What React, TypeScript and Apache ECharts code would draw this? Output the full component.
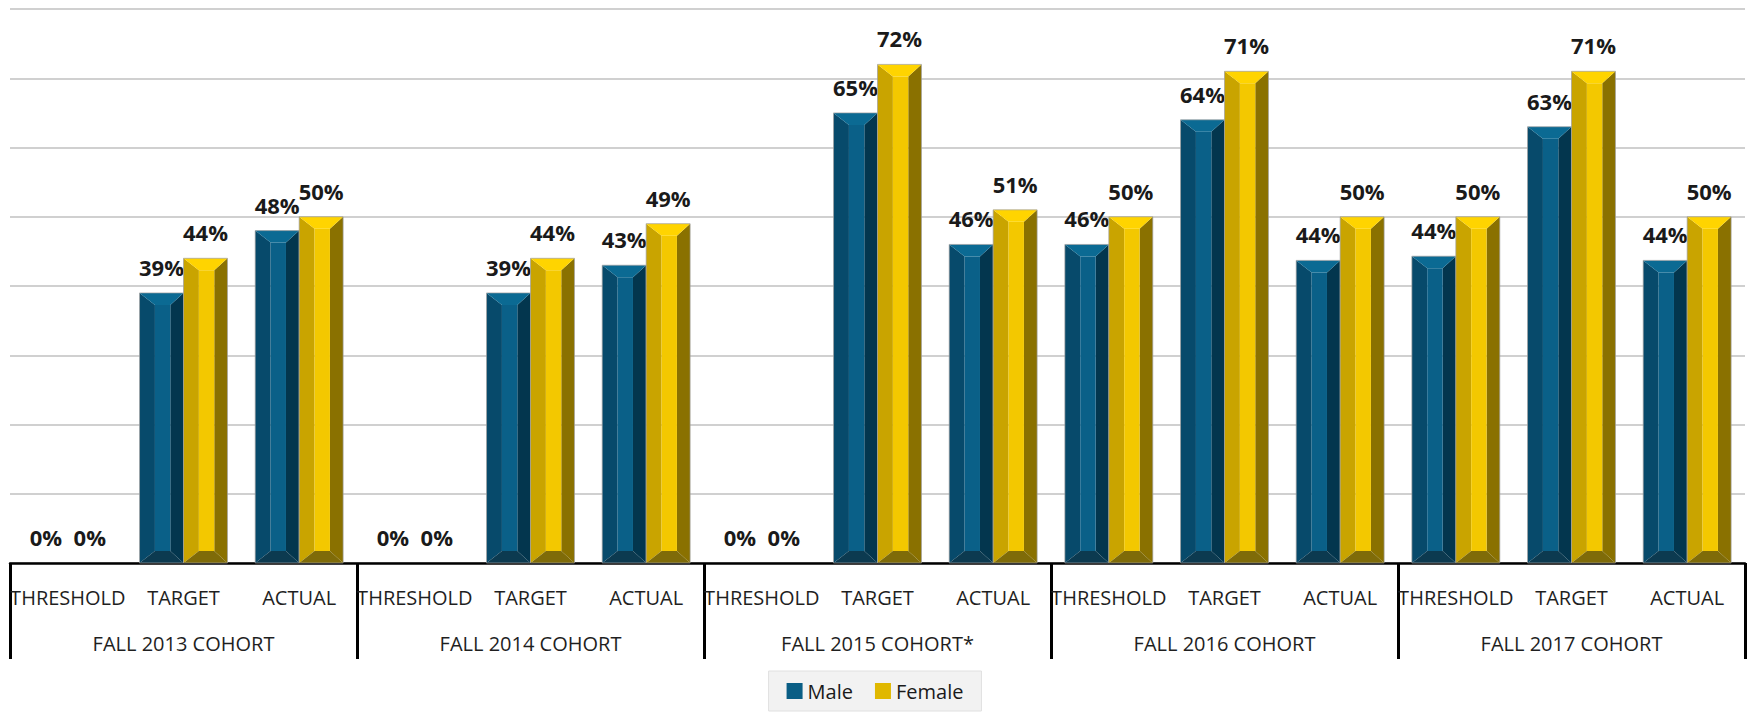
import React, { useEffect, useRef } from "react";
import * as echarts from "echarts";

const categories = [
  "THRESHOLD", "TARGET", "ACTUAL",
  "THRESHOLD", "TARGET", "ACTUAL",
  "THRESHOLD", "TARGET", "ACTUAL",
  "THRESHOLD", "TARGET", "ACTUAL",
  "THRESHOLD", "TARGET", "ACTUAL",
];
const cohorts = [
  "FALL 2013 COHORT",
  "FALL 2014 COHORT",
  "FALL 2015 COHORT*",
  "FALL 2016 COHORT",
  "FALL 2017 COHORT",
];
const maleValues = [0, 39, 48, 0, 39, 43, 0, 65, 46, 46, 64, 43.7, 44.3, 63, 43.7];
const femaleValues = [0, 44, 50, 0, 44, 49, 0, 72, 51, 50, 71, 50, 50, 71, 50];
const yTicks = { min: 0, max: 80, interval: 10 };

const FONT = "'Open Sans', 'Noto Sans', sans-serif";

const palettes = {
  Male: {
    left: "#074a6b",
    center: "#0a6088",
    right: "#03364e",
    top: "#0b6a93",
    bottom: "#0c3a50",
    solid: "#0a5e85",
  },
  Female: {
    left: "#c9a400",
    center: "#f3c800",
    right: "#8a7100",
    top: "#ffd400",
    bottom: "#7f6b08",
    solid: "#e0b800",
  },
};

function makeRender(side: number, pal: any) {
  return (params: any, api: any) => {
    const cat = api.value(0);
    const val = api.value(1);
    const topPt = api.coord([cat, val]);
    const basePt = api.coord([cat, 0]);
    const catW = api.size([1, 0])[0];
    const bw = catW * 0.38;
    const x0 = side === 0 ? basePt[0] - bw : basePt[0];
    const x1 = x0 + bw;
    const yt = topPt[1];
    const yb = basePt[1];
    const h = yb - yt;
    const children: any[] = [];
    if (h > 0.5) {
      const b = Math.min(12, h / 2);
      const l = bw * 0.35;
      const r = bw * 0.3;
      children.push(
        {
          type: "polygon",
          shape: { points: [[x0, yt], [x0 + l, yt + b], [x0 + l, yb - b], [x0, yb]] },
          style: { fill: pal.left },
        },
        {
          type: "polygon",
          shape: { points: [[x1, yt], [x1 - r, yt + b], [x1 - r, yb - b], [x1, yb]] },
          style: { fill: pal.right },
        },
        {
          type: "rect",
          shape: { x: x0 + l, y: yt + b, width: bw - l - r, height: Math.max(0, h - 2 * b) },
          style: { fill: pal.center },
        },
        {
          type: "polygon",
          shape: { points: [[x0, yt], [x1, yt], [x1 - r, yt + b], [x0 + l, yt + b]] },
          style: { fill: pal.top },
        },
        {
          type: "polygon",
          shape: { points: [[x0, yb], [x1, yb], [x1 - r, yb - b], [x0 + l, yb - b]] },
          style: { fill: pal.bottom },
        },
        {
          type: "rect",
          shape: { x: x0, y: yt, width: bw, height: h },
          style: { fill: "none", stroke: "rgba(160,160,160,0.7)", lineWidth: 1 },
        }
      );
    }
    children.push({
      type: "text",
      style: {
        text: Math.round(val) + "%",
        x: x0 + bw / 2,
        y: yt - 15,
        align: "center",
        verticalAlign: "bottom",
        fontSize: 22,
        fontWeight: "bold",
        fontFamily: FONT,
        fill: "#1a1a1a",
      },
    });
    return { type: "group", children };
  };
}

export default function App() {
  const ref = useRef<HTMLDivElement>(null);
  useEffect(() => {
    if (!ref.current) return;
    const chart = echarts.init(ref.current, null, { renderer: "svg" });
    const maleData = maleValues.map((v, i) => [i, v]);
    const femaleData = femaleValues.map((v, i) => [i, v]);
    chart.setOption({
      animation: false,
      backgroundColor: "#ffffff",
      grid: { left: 10, right: 5, top: 9, bottom: 150, containLabel: false },
      legend: {
        bottom: 2,
        left: "center",
        backgroundColor: "#f2f2f2",
        borderColor: "#e0e0e0",
        borderWidth: 1,
        padding: [10, 18, 10, 18],
        itemWidth: 16,
        itemHeight: 16,
        itemGap: 22,
        icon: "rect",
        textStyle: { fontSize: 20, fontFamily: FONT, color: "#1a1a1a" },
        data: [
          { name: "Male", itemStyle: { color: palettes.Male.solid } },
          { name: "Female", itemStyle: { color: palettes.Female.solid } },
        ],
      },
      xAxis: [
        {
          type: "category",
          data: categories,
          axisLine: { show: true, lineStyle: { color: "#000", width: 2.5 } },
          axisTick: { show: false },
          axisLabel: {
            interval: 0,
            margin: 24,
            fontSize: 20,
            fontFamily: FONT,
            color: "#1f1f1f",
          },
          splitLine: { show: false },
        },
        {
          type: "category",
          data: cohorts,
          position: "bottom",
          offset: 0,
          axisLine: { show: false },
          axisTick: {
            show: true,
            interval: 0,
            length: 96,
            lineStyle: { color: "#000", width: 3 },
          },
          axisLabel: {
            interval: 0,
            margin: 70,
            fontSize: 20,
            fontFamily: FONT,
            color: "#1f1f1f",
          },
          splitLine: { show: false },
        },
      ],
      yAxis: {
        type: "value",
        min: yTicks.min,
        max: yTicks.max,
        interval: yTicks.interval,
        axisLine: { show: false },
        axisTick: { show: false },
        axisLabel: { show: false },
        splitLine: { show: true, lineStyle: { color: "#d0d0d0", width: 2 } },
      },
      series: [
        {
          name: "Male",
          type: "custom",
          xAxisIndex: 0,
          yAxisIndex: 0,
          encode: { x: 0, y: 1 },
          itemStyle: { color: palettes.Male.solid },
          renderItem: makeRender(0, palettes.Male),
          data: maleData,
          z: 3,
        },
        {
          name: "Female",
          type: "custom",
          xAxisIndex: 0,
          yAxisIndex: 0,
          encode: { x: 0, y: 1 },
          itemStyle: { color: palettes.Female.solid },
          renderItem: makeRender(1, palettes.Female),
          data: femaleData,
          z: 3,
        },
      ],
    });
    return () => chart.dispose();
  }, []);
  return (
    <div
      ref={ref}
      style={{ position: "fixed", left: 0, top: 0, width: 1750, height: 713 }}
    />
  );
}
